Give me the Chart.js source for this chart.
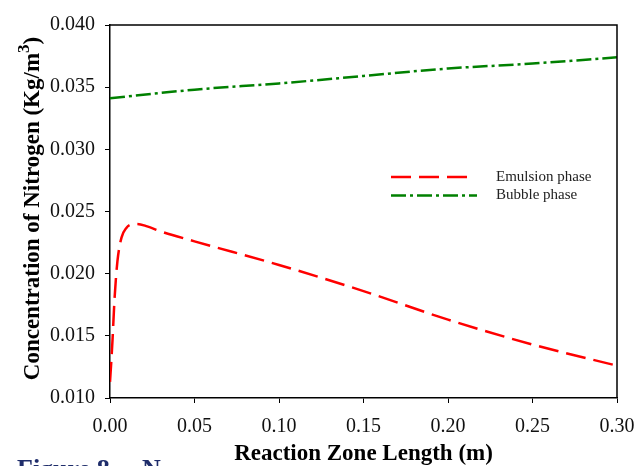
<!DOCTYPE html>
<html>
<head>
<meta charset="utf-8">
<script src="https://cdn.jsdelivr.net/npm/chart.js@4.4.0/dist/chart.umd.min.js"></script>
<style>
html, body { margin: 0; padding: 0; background: #fff; }
</style>
</head>
<body>
<canvas id="chart" width="635" height="466"></canvas>
<script>
// values
var emulsionX = [0, 0.0008, 0.0015, 0.0027, 0.0044, 0.0068, 0.0098, 0.0125, 0.016, 0.022, 0.03, 0.05, 0.10, 0.15, 0.20, 0.25, 0.30];
var emulsionY = [0.0113, 0.0130, 0.0147, 0.0180, 0.0210, 0.0229, 0.0237, 0.02395, 0.0240, 0.0238, 0.0234, 0.0226, 0.0207, 0.0186, 0.0163, 0.0143, 0.0126];
var bubbleX = [0, 0.05, 0.10, 0.15, 0.20, 0.25, 0.30];
var bubbleY = [0.0341, 0.0348, 0.0353, 0.0359, 0.0365, 0.0369, 0.0374];
var seriesNames = ['Emulsion phase', 'Bubble phase'];
var xTitle = 'Reaction Zone Length (m)';
var yTitleParts = ['Concentration of Nitrogen (Kg/m', '3', ')'];

function toPoints(xs, ys) {
    return xs.map(function (x, i) { return { x: x, y: ys[i] }; });
}

var serif = "'Liberation Serif', 'Times New Roman', serif";

// legend sits inside the plot, like the original
var insideLegend = {
    id: 'insideLegend',
    afterDatasetsDraw: function (chart) {
        var ctx = chart.ctx, a = chart.chartArea;
        var lens = [77, 86];
        chart.data.datasets.forEach(function (ds, i) {
            var y = a.top + 152 + i * 18.5;
            var x0 = a.left + 281;
            ctx.save();
            ctx.strokeStyle = ds.borderColor;
            ctx.lineWidth = ds.borderWidth;
            ctx.setLineDash(ds.borderDash);
            ctx.beginPath();
            ctx.moveTo(x0, y);
            ctx.lineTo(x0 + lens[i], y);
            ctx.stroke();
            ctx.setLineDash([]);
            ctx.fillStyle = '#222';
            ctx.font = '15px ' + serif;
            ctx.textBaseline = 'middle';
            ctx.fillText(ds.label, a.left + 386, y);
            ctx.restore();
        });
    }
};

// y title has a real superscript, so draw it by hand
var yAxisTitle = {
    id: 'yAxisTitle',
    afterDraw: function (chart) {
        var ctx = chart.ctx, a = chart.chartArea;
        var big = 'bold 23px ' + serif, small = 'bold 17px ' + serif;
        ctx.save();
        ctx.font = big;
        var w0 = ctx.measureText(yTitleParts[0]).width;
        var w2 = ctx.measureText(yTitleParts[2]).width;
        ctx.font = small;
        var w1 = ctx.measureText(yTitleParts[1]).width;
        var total = w0 + w1 + w2;
        ctx.translate(33, (a.top + a.bottom) / 2 - 3);
        ctx.rotate(-Math.PI / 2);
        ctx.fillStyle = '#000';
        ctx.textBaseline = 'middle';
        var x = -total / 2;
        ctx.font = big;
        ctx.fillText(yTitleParts[0], x, 0);
        x += w0;
        ctx.font = small;
        ctx.fillText(yTitleParts[1], x, -8);
        x += w1;
        ctx.font = big;
        ctx.fillText(yTitleParts[2], x, 0);
        ctx.restore();
    }
};

var frameAndCaption = {
    id: 'frameAndCaption',
    afterDraw: function (chart) {
        var ctx = chart.ctx, a = chart.chartArea;
        ctx.save();
        ctx.strokeStyle = '#000';
        ctx.lineWidth = 1.5;
        ctx.beginPath();
        ctx.moveTo(a.left, a.top);
        ctx.lineTo(a.right, a.top);
        ctx.lineTo(a.right, a.bottom);
        ctx.stroke();
        // cut-off caption under the figure
        ctx.fillStyle = '#1f2d6b';
        ctx.font = 'bold 26px ' + serif;
        ctx.textBaseline = 'alphabetic';
        ctx.fillText('Figure 8.', 17, 477);
        ctx.fillText('N', 142, 477);
        ctx.restore();
    }
};

new Chart(document.getElementById('chart'), {
    type: 'scatter',
    data: {
        datasets: [{
            label: seriesNames[0],
            data: toPoints(emulsionX, emulsionY),
            showLine: true,
            borderColor: '#ff0000',
            borderWidth: 2.5,
            borderDash: [20, 8],
            pointRadius: 0,
            cubicInterpolationMode: 'monotone'
        }, {
            label: seriesNames[1],
            data: toPoints(bubbleX, bubbleY),
            showLine: true,
            borderColor: '#008000',
            borderWidth: 2.5,
            borderDash: [15, 4, 3, 4],
            pointRadius: 0,
            cubicInterpolationMode: 'monotone'
        }]
    },
    options: {
        responsive: false,
        animation: false,
        layout: { padding: { top: 25, right: 18, left: 0, bottom: 0 } },
        plugins: {
            legend: { display: false },
            tooltip: { enabled: false }
        },
        scales: {
            x: {
                type: 'linear',
                min: 0,
                max: 0.3,
                ticks: {
                    stepSize: 0.05,
                    padding: 12,
                    color: '#111',
                    font: { family: serif, size: 20 },
                    callback: function (v) { return v.toFixed(2); }
                },
                grid: { drawOnChartArea: false, drawTicks: true, tickLength: 5, color: '#000' },
                border: { display: true, color: '#000', width: 1.5 },
                title: {
                    display: true,
                    text: xTitle,
                    color: '#000',
                    font: { family: serif, size: 23, weight: 'bold', lineHeight: 1 },
                    padding: { top: 0, bottom: 0 }
                },
                afterFit: function (s) { s.height = 68; s.paddingLeft = 0; s.paddingRight = 0; }
            },
            y: {
                min: 0.010,
                max: 0.040,
                ticks: {
                    stepSize: 0.005,
                    padding: 10,
                    color: '#111',
                    font: { family: serif, size: 20 },
                    callback: function (v) { return v.toFixed(3); }
                },
                grid: { drawOnChartArea: false, drawTicks: true, tickLength: 5, color: '#000' },
                border: { display: true, color: '#000', width: 1.5 },
                afterFit: function (s) { s.width = 110; s.paddingTop = 0; s.paddingBottom = 0; }
            }
        }
    },
    plugins: [insideLegend, yAxisTitle, frameAndCaption]
});
</script>
</body>
</html>
